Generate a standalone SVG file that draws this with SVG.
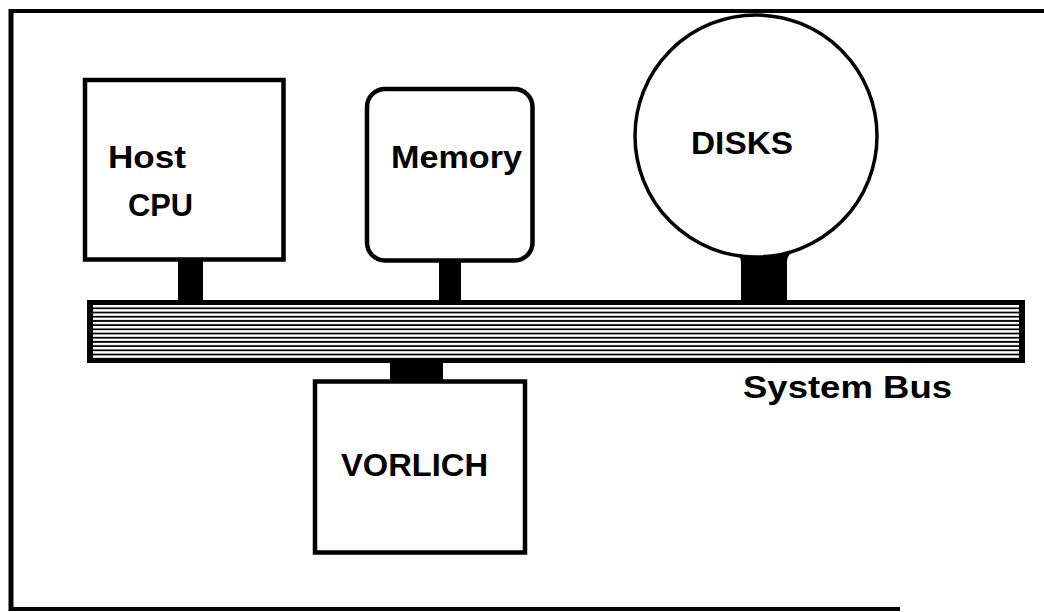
<svg xmlns="http://www.w3.org/2000/svg" width="1044" height="612" viewBox="0 0 1044 612">
  <style>
    .box { fill: #ffffff; stroke: #000000; stroke-width: 4.5; }
    .conn { fill: #000000; stroke: none; }
    .lbl { font-family: "Liberation Sans", Arial, sans-serif; font-weight: bold; font-size: 32px; fill: #000000; }
  </style>
  <defs>
    <pattern id="stripes" x="0" y="305" width="8" height="4.2" patternUnits="userSpaceOnUse">
      <rect x="0" y="0" width="8" height="4.2" fill="#000000"/>
      <rect x="0" y="0" width="8" height="2.4" fill="#ffffff"/>
    </pattern>
  </defs>
  <rect x="0" y="0" width="1044" height="612" fill="#ffffff"/>
  <g id="frame" fill="none" stroke="#000000">
    <line x1="9" y1="11" x2="1044" y2="11" stroke-width="4"/>
    <line x1="11" y1="9" x2="11" y2="611" stroke-width="5"/>
    <line x1="9" y1="609" x2="900" y2="609" stroke-width="4"/>
  </g>
  <g id="connectors">
    <rect class="conn" x="178" y="258" width="25" height="44"/>
    <rect class="conn" x="439" y="258" width="22" height="44"/>
    <path class="conn" d="M741,302 L741,262 Q741,255 733,253 L795,250 Q787,254 787,262 L787,302 Z"/>
    <rect class="conn" x="390" y="360" width="53" height="23"/>
  </g>
  <g id="bus">
    <rect x="87" y="300" width="938" height="63" fill="#000000"/>
    <rect x="93" y="305" width="926" height="53" fill="url(#stripes)"/>
  </g>
  <g id="host-cpu">
    <rect class="box" x="85" y="80" width="198.5" height="179.5"/>
    <text class="lbl" x="108" y="168" textLength="78" lengthAdjust="spacingAndGlyphs">Host</text>
    <text class="lbl" x="128" y="216" textLength="65" lengthAdjust="spacingAndGlyphs">CPU</text>
  </g>
  <g id="memory">
    <rect class="box" x="367" y="89" width="165.5" height="171.5" rx="18" ry="18"/>
    <text class="lbl" x="391" y="168" font-size="30" textLength="131" lengthAdjust="spacingAndGlyphs">Memory</text>
  </g>
  <g id="disks">
    <circle cx="756" cy="136" r="121" fill="#ffffff" stroke="#000000" stroke-width="3.5"/>
    <text class="lbl" x="691" y="154" textLength="102" lengthAdjust="spacingAndGlyphs">DISKS</text>
  </g>
  <g id="vorlich">
    <rect class="box" x="315" y="381.5" width="210" height="171"/>
    <text class="lbl" x="341" y="476" textLength="147" lengthAdjust="spacingAndGlyphs">VORLICH</text>
  </g>
  <g id="system-bus-label">
    <text class="lbl" x="743" y="398" textLength="209" lengthAdjust="spacingAndGlyphs">System Bus</text>
  </g>
</svg>
